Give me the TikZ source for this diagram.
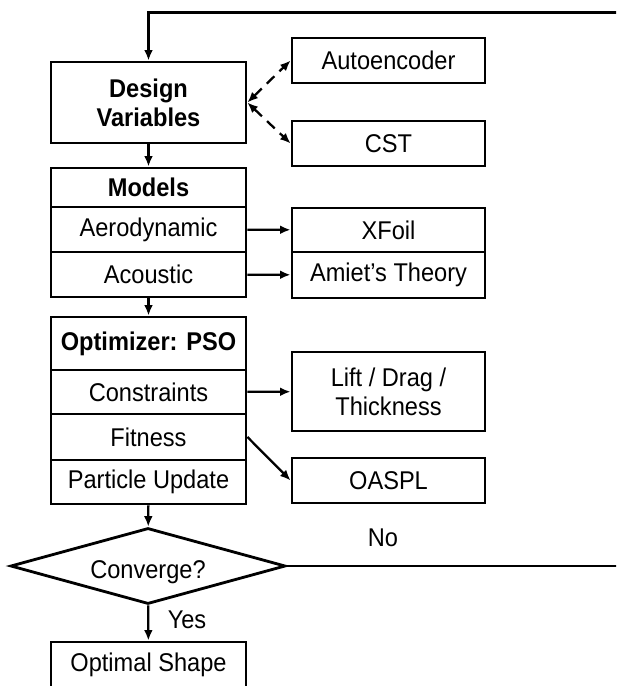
\documentclass[tikz,border=0pt]{standalone}
\usepackage{fontspec}
\setmainfont{Liberation Sans}[FakeStretch=0.92]
\usetikzlibrary{arrows.meta,shapes.geometric}
\begin{document}
\begin{tikzpicture}[
    font=\fontsize{14.6}{16.5}\selectfont,
    box/.style={draw, line width=1.6pt, minimum width=3.9cm, inner sep=0pt, align=center},
    sidebox/.style={box, minimum width=3.86cm},
    link/.style={line width=1.3pt, -{Latex[length=6pt,width=5pt]}},
    dlink/.style={line width=1.3pt, dash pattern=on 6pt off 4pt, {Latex[length=6pt,width=5pt]}-{Latex[length=6pt,width=5pt]}}
  ]
  \clip (0,0) rectangle (12.32,-13.72);
  % main column
  \node[box, minimum height=1.62cm, font=\fontsize{14.6}{16.5}\selectfont\bfseries] (design) at (2.97,-2.05) {Design\\Variables};
  \node[box, minimum height=0.78cm, font=\fontsize{14.6}{16.5}\selectfont\bfseries] (models) at (2.97,-3.75) {Models};
  \node[box, minimum height=0.9cm] (aero) at (2.97,-4.59) {Aerodynamic};
  \node[box, minimum height=0.9cm] (acou) at (2.97,-5.49) {Acoustic};
  \node[box, minimum height=1.06cm, font=\fontsize{14.6}{16.5}\selectfont\bfseries] (pso) at (2.97,-6.87) {Optimizer: PSO};
  \node[box, minimum height=0.88cm] (constr) at (2.97,-7.84) {Constraints};
  \node[box, minimum height=0.92cm] (fit) at (2.97,-8.74) {Fitness};
  \node[box, minimum height=0.88cm] (update) at (2.97,-9.64) {Particle Update};
  \node[draw, line width=1.6pt, diamond, aspect=3.6, minimum width=5.5cm, minimum height=1.52cm, inner sep=0pt] (conv) at (2.96,-11.32) {};
  \node (convtxt) at (2.96,-11.44) {Converge?};
  \node[box, minimum height=0.9cm] (shape) at (2.97,-13.29) {Optimal Shape};
  % side column
  \node[sidebox, minimum height=0.9cm] (auto) at (7.77,-1.21) {Autoencoder};
  \node[sidebox, minimum height=0.9cm] (cst) at (7.77,-2.87) {CST};
  \node[sidebox, minimum height=0.88cm] (xfoil) at (7.77,-4.6) {XFoil};
  \node[sidebox, minimum height=0.92cm] (amiet) at (7.77,-5.5) {Amiet’s Theory};
  \node[sidebox, minimum height=1.58cm] (lift) at (7.77,-7.83) {Lift / Drag /\\Thickness};
  \node[sidebox, minimum height=0.9cm] (oaspl) at (7.77,-9.61) {OASPL};
  \node (no) at (7.66,-10.76) {No};
  \node (yes) at (3.74,-12.4) {Yes};
  \coordinate (loopright) at (13,-11.32);
  \coordinate (looptop) at (13,-0.25);
  % connectors
  \draw[dlink] (design.east) -- (auto.west);
  \draw[dlink] (design.east) -- (cst.west);
  \draw[link] (design) -- (models);
  \draw[link] (aero) -- (xfoil);
  \draw[link] (acou) -- (amiet);
  \draw[link] (acou) -- (pso);
  \draw[link] (constr) -- (lift);
  \draw[link] (fit.east) -- (oaspl.west);
  \draw[link] (update) -- (conv);
  \draw[link] (conv) -- (shape);
  \draw[link] (conv.east) -- (loopright) -- (looptop) -| (design.north);
\end{tikzpicture}
\end{document}
